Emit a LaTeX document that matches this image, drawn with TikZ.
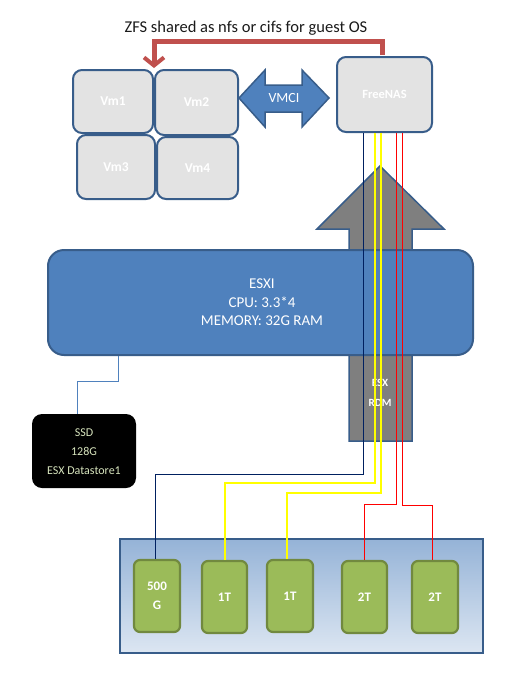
\documentclass[tikz,border=0pt]{standalone}
\usepackage{fontspec}
\setmainfont{Carlito}
\usetikzlibrary{calc,arrows.meta}
\definecolor{bord}{HTML}{385D8A}
\definecolor{accblue}{HTML}{4F81BD}
\definecolor{redc}{HTML}{C0504D}
\definecolor{vmfill}{HTML}{E3E3E3}
\definecolor{diskfill}{HTML}{9BBB59}
\definecolor{diskbord}{HTML}{71893F}
\definecolor{ssdtext}{HTML}{D7E4BD}
\definecolor{navyc}{HTML}{002060}
\definecolor{yelc}{HTML}{FFFF00}
\definecolor{cabred}{HTML}{FF0000}
\definecolor{trayTop}{HTML}{95B3D7}
\definecolor{trayBot}{HTML}{DCE6F2}
\definecolor{arrgray}{HTML}{7F7F7F}
\definecolor{titlec}{HTML}{1A1A1A}
\tikzset{
  vmbox/.style={draw=bord, line width=2pt, fill=vmfill, rounded corners=9pt,
    text=white, font=\bfseries\fontsize{13.5}{15}\selectfont, inner sep=0pt},
  diskbox/.style={draw=diskbord, line width=2.2pt, fill=diskfill, rounded corners=6pt,
    text=white, font=\bfseries\fontsize{13}{19}\selectfont, inner sep=0pt,
    minimum width=45pt, minimum height=72pt, align=center},
  cable/.style={line width=1pt},
  ycable/.style={line width=1.5pt, draw=yelc},
  redline/.style={draw=redc, line width=5pt, -{Straight Barb[length=8pt,width=20pt,line width=4pt]}},
}
\begin{document}
\begin{tikzpicture}[x=1pt,y=-1pt]
\useasboundingbox (0,0) rectangle (508,673);
% title
\node[text=titlec, font=\fontsize{16.5}{18}\selectfont, inner sep=0pt] (title) at (246,28) {ZFS shared as nfs or cifs for guest OS};
% VMs
\node[vmbox, minimum width=80pt, minimum height=63pt] (vm1) at (113,101.5) {Vm1};
\node[vmbox, minimum width=83pt, minimum height=65pt] (vm2) at (196.5,102.5) {Vm2};
\node[vmbox, minimum width=78pt, minimum height=64pt] (vm3) at (116,167) {Vm3};
\node[vmbox, minimum width=81pt, minimum height=62pt] (vm4) at (197.5,168) {Vm4};
% FreeNAS
\node[vmbox, font=\bfseries\fontsize{12.5}{13}\selectfont, minimum width=95pt, minimum height=75pt] (freenas) at (384.5,94.5) {FreeNAS};
% red connector
\coordinate (vmjoin) at ($(vm1.north east)!0.5!(vm2.north west)$);
\draw[redline] ($(freenas.north)+(-2.5,-1)$) |- ($(vmjoin)+(0,-28)$) -- ($(vmjoin)+(0,-1)$);
% VMCI double arrow
\draw[draw=bord, line width=1.5pt, fill=accblue] (239,98) -- (265,70) -- (265,85) -- (302,85) -- (302,70) -- (329,98) -- (302,127) -- (302,112) -- (265,112) -- (265,127) -- cycle;
\node[text=white, font=\fontsize{14}{15}\selectfont] (vmci) at (284,98) {VMCI};
% gray up arrow
\draw[draw=bord, line width=1.5pt, fill=arrgray] (380,166) -- (444,229) -- (412,229) -- (412,441) -- (349,441) -- (349,229) -- (317,229) -- cycle;
% ESXI
\node[draw=bord, line width=2pt, fill=accblue, rounded corners=16pt, minimum width=425pt, minimum height=105pt, inner sep=0pt] (esxi) at (260.5,302.5) {};
\node[text=white, font=\fontsize{15}{18.5}\selectfont, align=center, inner sep=0pt] (esxitext) at (262,302.5) {ESXI\\CPU: 3.3*4\\MEMORY: 32G RAM};
% ESX RDM labels
\node[text=white, font=\bfseries\fontsize{11}{12}\selectfont, inner sep=0pt] (esxl) at (380,383) {ESX};
\node[text=white, font=\bfseries\fontsize{11}{12}\selectfont, inner sep=0pt] (rdml) at (380,403) {RDM};
% SSD
\node[fill=black, rounded corners=10pt, minimum width=104pt, minimum height=74pt, inner sep=0pt] (ssd) at (84,451) {};
\node[text=ssdtext, font=\fontsize{12}{19}\selectfont, align=center, inner sep=0pt] (ssdtext) at (84,452) {SSD\\128G\\ESX Datastore1};
\draw[accblue, line width=0.9pt] ($(esxi.south west)+(71,0)$) -- ++(0,25) -| ($(ssd.north)+(-7,0)$);
% tray
\node[draw=bord, line width=2pt, top color=trayTop, bottom color=trayBot, minimum width=363pt, minimum height=114pt, inner sep=0pt] (tray) at (301.5,596) {};
% disks
\node[diskbox, minimum width=46pt] (d1) at (157,596) {500\\G};
\node[diskbox] (d2) at (224.5,597) {1T};
\node[diskbox, minimum width=46pt] (d3) at (290,596) {1T};
\node[diskbox] (d4) at (364.5,597) {2T};
\node[diskbox, minimum width=46pt] (d5) at (435,597) {2T};
% cables
\draw[cable, navyc] ($(freenas.south)+(-21.5,0)$) -- ++(0,341) -| ($(d1.north)+(-2,0)$);
\draw[ycable] ($(freenas.south)+(-9.5,0)$) -- ++(0,350) -| ($(d2.north)+(0.5,0)$);
\draw[ycable] ($(freenas.south)+(-3.5,0)$) -- ++(0,360) -| ($(d3.north)+(-3,0)$);
\draw[cable, cabred] ($(freenas.south)+(11.5,0)$) -- ++(0,371) -| (d4.north);
\draw[cable, cabred] ($(freenas.south)+(17.5,0)$) -- ++(0,372) -| ($(d5.north)+(-3,0)$);
\end{tikzpicture}
\end{document}
